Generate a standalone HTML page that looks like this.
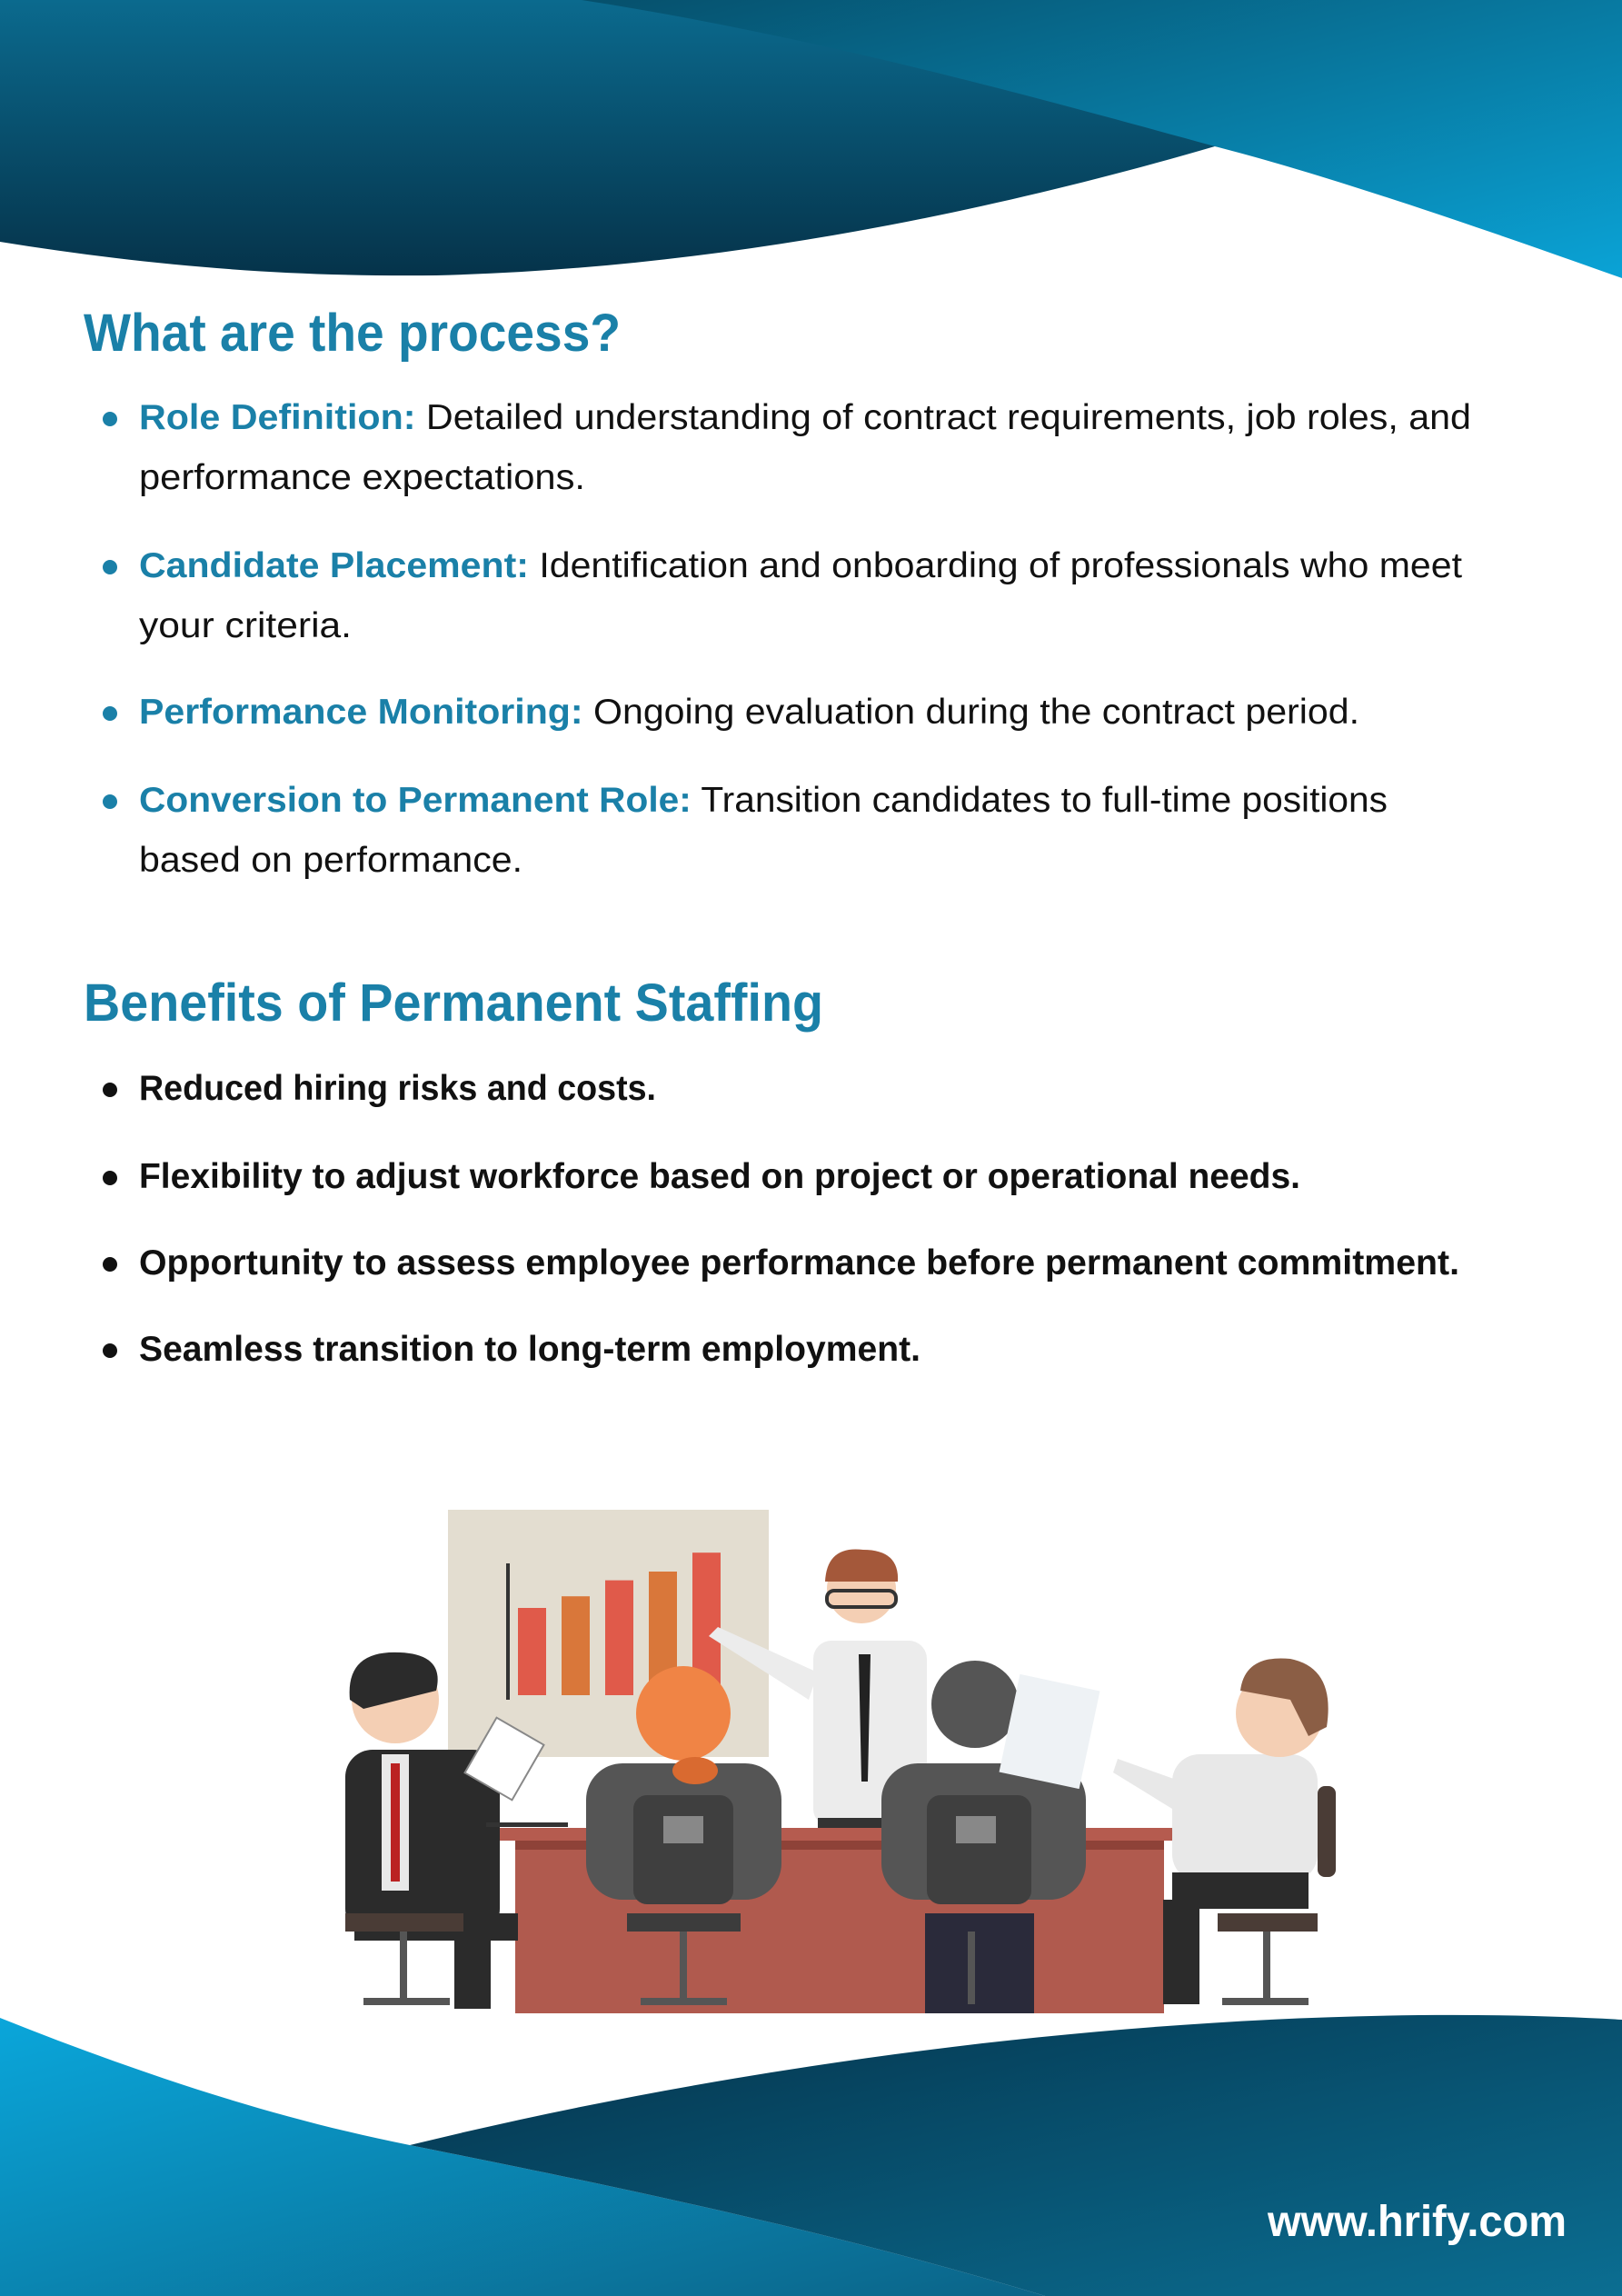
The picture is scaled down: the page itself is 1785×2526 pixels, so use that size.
<!DOCTYPE html>
<html><head><meta charset="utf-8"><style>
html,body{margin:0;padding:0;background:#fff}
svg{display:block}
text{font-family:"Liberation Sans",sans-serif}
</style></head><body>
<svg width="1785" height="2526" viewBox="0 0 1785 2526">
<defs>
<linearGradient id="gDark" x1="0" y1="0" x2="0" y2="1"><stop offset="0" stop-color="#0b6a8e"/><stop offset="1" stop-color="#05334a"/></linearGradient>
<linearGradient id="gBand" x1="0" y1="0" x2="1" y2="1"><stop offset="0" stop-color="#06506c"/><stop offset="1" stop-color="#0aa3d6"/></linearGradient>
<linearGradient id="gLight" x1="0" y1="0" x2="1" y2="1"><stop offset="0" stop-color="#0aa6da"/><stop offset="1" stop-color="#0b6488"/></linearGradient>
<linearGradient id="gDark2" x1="0" y1="0" x2="1" y2="1"><stop offset="0" stop-color="#04324a"/><stop offset="1" stop-color="#0b6e92"/></linearGradient>
</defs>
<g>
<path d="M0,0 L1785,0 L1785,300 C1600,230 1450,180 1337,161 C1100,230 800,295 480,303 C300,305 150,290 0,266 Z" fill="url(#gDark)"/>
<path d="M640,0 L1785,0 L1785,306 C1600,240 1450,190 1337,161 C1150,110 900,40 640,0 Z" fill="url(#gBand)"/>
</g>
<g>
<path d="M0,2220 C150,2280 300,2330 451,2360 C650,2400 900,2450 1150,2526 L0,2526 Z" fill="url(#gLight)"/>
<path d="M451,2360 C900,2250 1400,2200 1785,2222 L1785,2526 L1150,2526 C900,2450 650,2400 451,2360 Z" fill="url(#gDark2)"/>
</g>
<text x="92" y="386" font-size="58" font-weight="bold" fill="#1a80a8" textLength="591" lengthAdjust="spacingAndGlyphs">What are the process?</text>
<g font-size="39" fill="#111">
<circle cx="121" cy="461" r="8" fill="#1a80a8"/>
<text x="153" y="472" textLength="1466" lengthAdjust="spacingAndGlyphs"><tspan fill="#1a80a8" font-weight="bold">Role Definition:</tspan> Detailed understanding of contract requirements, job roles, and</text>
<text x="153" y="538" textLength="491" lengthAdjust="spacingAndGlyphs">performance expectations.</text>
<circle cx="121" cy="624" r="8" fill="#1a80a8"/>
<text x="153" y="635" textLength="1456" lengthAdjust="spacingAndGlyphs"><tspan fill="#1a80a8" font-weight="bold">Candidate Placement:</tspan> Identification and onboarding of professionals who meet</text>
<text x="153" y="701" textLength="234" lengthAdjust="spacingAndGlyphs">your criteria.</text>
<circle cx="121" cy="785" r="8" fill="#1a80a8"/>
<text x="153" y="796" textLength="1343" lengthAdjust="spacingAndGlyphs"><tspan fill="#1a80a8" font-weight="bold">Performance Monitoring:</tspan> Ongoing evaluation during the contract period.</text>
<circle cx="121" cy="882" r="8" fill="#1a80a8"/>
<text x="153" y="893" textLength="1374" lengthAdjust="spacingAndGlyphs"><tspan fill="#1a80a8" font-weight="bold">Conversion to Permanent Role:</tspan> Transition candidates to full-time positions</text>
<text x="153" y="959" textLength="422" lengthAdjust="spacingAndGlyphs">based on performance.</text>
</g>
<text x="92" y="1123" font-size="58" font-weight="bold" fill="#1a80a8" textLength="814" lengthAdjust="spacingAndGlyphs">Benefits of Permanent Staffing</text>
<g font-size="39" font-weight="bold" fill="#111">
<circle cx="121" cy="1199" r="8"/><text x="153" y="1210" textLength="569" lengthAdjust="spacingAndGlyphs">Reduced hiring risks and costs.</text>
<circle cx="121" cy="1296" r="8"/><text x="153" y="1307" textLength="1278" lengthAdjust="spacingAndGlyphs">Flexibility to adjust workforce based on project or operational needs.</text>
<circle cx="121" cy="1391" r="8"/><text x="153" y="1402" textLength="1453" lengthAdjust="spacingAndGlyphs">Opportunity to assess employee performance before permanent commitment.</text>
<circle cx="121" cy="1486" r="8"/><text x="153" y="1497" textLength="860" lengthAdjust="spacingAndGlyphs">Seamless transition to long-term employment.</text>
</g>
<g>
<rect x="493" y="1661" width="353" height="272" fill="#e3ddd0"/>
<rect x="557" y="1720" width="4" height="150" fill="#333"/>
<g id="bars"></g>
<rect x="895" y="1805" width="125" height="205" rx="20" fill="#ececec"/>
<polygon points="945,1820 958,1820 955,1960 948,1960" fill="#222"/>
<path d="M900,1840 L790,1790 L780,1800 L890,1870 Z" fill="#ececec"/>
<circle cx="948" cy="1748" r="38" fill="#f4cfb4"/>
<path d="M908,1740 Q910,1700 950,1705 Q990,1705 988,1740 Z" fill="#a4583a"/>
<rect x="910" y="1750" width="76" height="18" rx="8" fill="none" stroke="#333" stroke-width="4"/>
<rect x="900" y="2000" width="80" height="25" fill="#333"/>
<rect x="507" y="2011" width="833" height="14" fill="#b55b4f"/>
<rect x="567" y="2025" width="714" height="190" fill="#b05a4e"/>
<rect x="567" y="2025" width="714" height="10" fill="#8e4238"/>
<rect x="380" y="1925" width="170" height="205" rx="30" fill="#2b2b2b"/>
<rect x="420" y="1930" width="30" height="150" fill="#e8e8e8"/>
<rect x="430" y="1940" width="10" height="130" fill="#b22"/>
<circle cx="435" cy="1870" r="48" fill="#f4cfb4"/>
<path d="M385,1870 Q380,1815 440,1818 Q490,1820 480,1860 L400,1880 Z" fill="#2b2b2b"/>
<rect x="390" y="2105" width="180" height="30" fill="#2b2b2b"/>
<rect x="500" y="2110" width="40" height="100" fill="#2b2b2b"/>
<rect x="380" y="2105" width="130" height="20" fill="#4a3c36"/>
<rect x="440" y="2125" width="8" height="80" fill="#555"/>
<rect x="400" y="2198" width="95" height="8" fill="#555"/>
<rect x="645" y="1940" width="215" height="150" rx="40" fill="#555"/>
<circle cx="752" cy="1885" r="52" fill="#f08445"/>
<ellipse cx="765" cy="1948" rx="25" ry="15" fill="#d96a30"/>
<rect x="697" y="1975" width="110" height="120" rx="15" fill="#3f3f3f"/>
<rect x="730" y="1998" width="44" height="30" fill="#888"/>
<rect x="690" y="2105" width="125" height="20" fill="#3c3c3c"/>
<rect x="748" y="2125" width="8" height="80" fill="#555"/>
<rect x="705" y="2198" width="95" height="8" fill="#555"/>
<rect x="970" y="1940" width="225" height="150" rx="40" fill="#555"/>
<circle cx="1073" cy="1875" r="48" fill="#555"/>
<rect x="1020" y="1975" width="115" height="120" rx="15" fill="#3f3f3f"/>
<rect x="1052" y="1998" width="44" height="30" fill="#888"/>
<rect x="1018" y="2105" width="120" height="110" fill="#2a2a3a"/>
<rect x="1065" y="2125" width="8" height="80" fill="#555"/>
<rect x="1110" y="1850" width="90" height="110" fill="#eef2f5" transform="rotate(12 1155 1905)"/>
<rect x="1290" y="1930" width="160" height="140" rx="30" fill="#e8e8e8"/>
<path d="M1300,1960 L1230,1935 L1225,1950 L1290,1990 Z" fill="#e8e8e8"/>
<circle cx="1408" cy="1885" r="48" fill="#f4cfb4"/>
<path d="M1365,1860 Q1370,1820 1420,1825 Q1470,1835 1460,1900 L1440,1910 L1420,1870 Z" fill="#8b5e45"/>
<rect x="1290" y="2060" width="150" height="40" fill="#2b2b2b"/>
<rect x="1280" y="2090" width="40" height="115" fill="#2b2b2b"/>
<rect x="1450" y="1965" width="20" height="100" rx="8" fill="#4a3c36"/>
<rect x="1340" y="2105" width="110" height="20" fill="#4a3c36"/>
<rect x="1390" y="2125" width="8" height="80" fill="#555"/>
<rect x="1345" y="2198" width="95" height="8" fill="#555"/>
<rect x="525" y="1900" width="60" height="70" fill="#fff" stroke="#888" stroke-width="2" transform="rotate(30 555 1935)"/>
<rect x="535" y="2005" width="90" height="5" fill="#333"/>
</g>
<text x="1724" y="2460" font-size="48" font-weight="bold" fill="#fff" text-anchor="end" textLength="329" lengthAdjust="spacingAndGlyphs">www.hrify.com</text>
</svg>
<script>
var barValues = [60, 68, 79, 85, 98];
var barColors = ['#e05a4a', '#d9773a', '#e05a4a', '#d9773a', '#e05a4a'];
(function () {
  var g = document.getElementById('bars');
  var base = 1865, scale = 1.6, x0 = 570, step = 48, w = 31;
  for (var i = 0; i < barValues.length; i++) {
    var r = document.createElementNS('http://www.w3.org/2000/svg', 'rect');
    var h = barValues[i] * scale;
    r.setAttribute('x', x0 + i * step);
    r.setAttribute('y', base - h);
    r.setAttribute('width', w);
    r.setAttribute('height', h);
    r.setAttribute('fill', barColors[i]);
    
    
    g.appendChild(r);
  }
})();
</script>
</body></html>
